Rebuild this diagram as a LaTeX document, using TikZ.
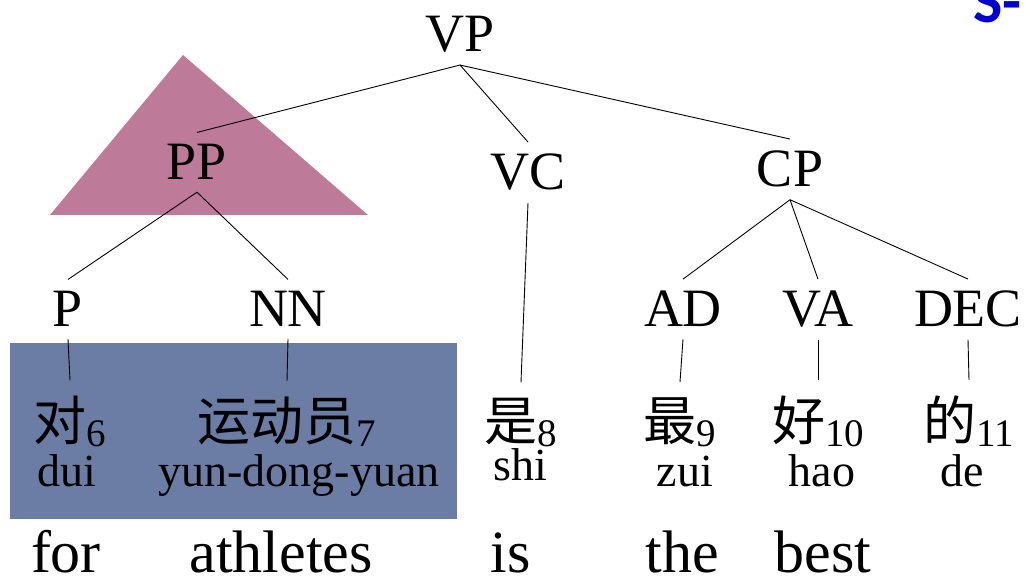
\documentclass[tikz,border=0pt]{standalone}
\usepackage{fontspec}
\setmainfont{Liberation Serif}
\newfontfamily\cjk{Noto Sans CJK SC}
\newfontfamily\titlefont{Carlito}
\definecolor{pinkc}{RGB}{189,122,153}
\definecolor{bluec}{RGB}{107,124,165}
\definecolor{titleblue}{RGB}{0,0,204}
\begin{document}
\begin{tikzpicture}[x=1pt,y=-1pt,
  tag/.style={font=\fontsize{54}{54}\selectfont, anchor=base, inner xsep=0pt, inner ysep=12pt},
  leaf/.style={font=\cjk\fontsize{53}{53}\selectfont, anchor=base, inner xsep=0pt, inner ysep=15pt},
  pin/.style={font=\fontsize{46}{46}\selectfont, anchor=base, inner sep=0pt},
  eng/.style={font=\fontsize{60}{60}\selectfont, anchor=base, inner sep=0pt},
  edge/.style={draw=black, line width=0.9pt}]
\useasboundingbox (0,0) rectangle (1026,577);
\newcommand{\sub}[1]{\raisebox{-6pt}{\rmfamily\fontsize{39}{39}\selectfont #1}}

% shapes
\fill[pinkc] (183,55) -- (50,215) -- (368,215) -- cycle;
\fill[bluec] (10,343) rectangle (457,519);

% title fragment
\node[anchor=base west, inner sep=0pt, text=titleblue, font=\titlefont\bfseries\fontsize{62}{62}\selectfont] (title) at (973,23) {S-};

% tree labels
\node[tag] (VP) at (460,52) {VP};
\node[tag] (PP) at (197,180) {PP};
\node[tag] (VC) at (528,190) {VC};
\node[tag] (CP) at (790,187) {CP};
\node[tag] (P) at (68,327) {P};
\node[tag] (NN) at (288,327) {NN};
\node[tag] (AD) at (683,327) {AD};
\node[tag] (VA) at (818,327) {VA};
\node[tag] (DEC) at (968,327) {DEC};

% leaves
\node[leaf] (w6) at (70,440) {对\sub{6}};
\node[leaf] (w7) at (287,440) {运动员\sub{7}};
\node[leaf] (w8) at (521,440) {是\sub{8}};
\node[leaf] (w9) at (680,440) {最\sub{9}};
\node[leaf] (w10) at (818,440) {好\sub{10}};
\node[leaf] (w11) at (969,440) {的\sub{11}};

% pinyin
\node[pin] (p6) at (67,486) {dui};
\node[pin] (p7) at (299,486) {yun-dong-yuan};
\node[pin] (p8) at (520,480) {shi};
\node[pin] (p9) at (685,486) {zui};
\node[pin] (p10) at (822,486) {hao};
\node[pin] (p11) at (962,486) {de};

% english
\node[eng] (e6) at (66,572) {for};
\node[eng] (e7) at (281,572) {athletes};
\node[eng] (e8) at (511,572) {is};
\node[eng] (e9) at (682,572) {the};
\node[eng] (e10) at (823,572) {best};

% connectors
\draw[edge] (VP.south) -- (PP.north);
\draw[edge] (VP.south) -- (VC.north);
\draw[edge] (VP.south) -- (CP.north);
\draw[edge] (PP.south) -- (P.north);
\draw[edge] (PP.south) -- (NN.north);
\draw[edge] (CP.south) -- (AD.north);
\draw[edge] (CP.south) -- (VA.north);
\draw[edge] (CP.south) -- (DEC.north);
\draw[edge] (P.south) -- (w6.north);
\draw[edge] (NN.south) -- (w7.north);
\draw[edge] (VC.south) -- (w8.north);
\draw[edge] (AD.south) -- (w9.north);
\draw[edge] (VA.south) -- (w10.north);
\draw[edge] (DEC.south) -- (w11.north);
\end{tikzpicture}
\end{document}
